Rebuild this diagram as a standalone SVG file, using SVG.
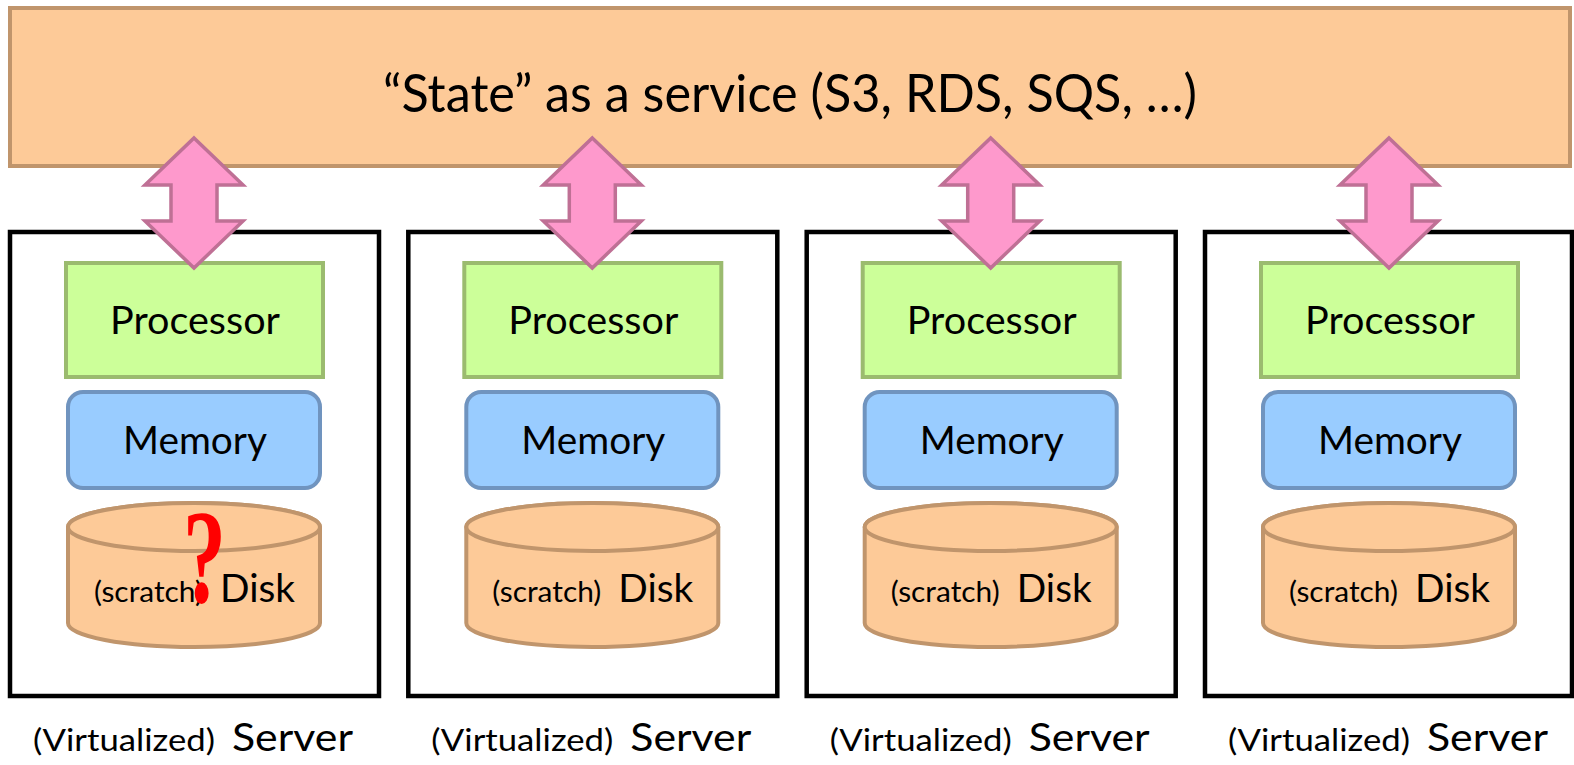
<svg xmlns="http://www.w3.org/2000/svg" width="1574" height="765" viewBox="0 0 1574 765">
<style>
  text { font-family: Lato, "Liberation Sans", sans-serif; fill: #000; }
  .state { fill: #fdca98; stroke: #c0956c; stroke-width: 4; }
  .server { fill: #fff; stroke: #000; stroke-width: 4.5; }
  .proc { fill: #ccff99; stroke: #9bbb6f; stroke-width: 4; }
  .mem { fill: #99ccff; stroke: #7094bf; stroke-width: 4; }
  .disk { fill: #fdca98; stroke: #c0956c; stroke-width: 4; }
  .arrow { fill: #fe99cc; stroke: #bf7095; stroke-width: 3.5; stroke-linejoin: miter; }
  .big { font-size: 39px; }
  .small { font-size: 29px; }
  .virt { font-size: 30px; }
  .title { font-size: 52px; }
  .q { font-family: "Liberation Serif", serif; font-weight: bold; font-size: 134px; fill: #ff0000; }
</style>
<defs>
  <path id="dblarrow" d="M194,138 L243,185 L217,185 L217,221 L243,221 L194,268 L145,221 L171,221 L171,185 L145,185 Z"/>
</defs>

<g id="state-service">
  <rect class="state" x="10" y="8" width="1560" height="158"/>
  <text class="title" x="790" y="112" text-anchor="middle" textLength="814" lengthAdjust="spacingAndGlyphs">“State” as a service (S3, RDS, SQS, …)</text>
</g>

<g id="server1">
  <rect class="server" x="10" y="232" width="369" height="464"/>
  <rect class="proc" x="66" y="263" width="257" height="114"/>
  <text class="big" x="195" y="334" text-anchor="middle" textLength="170" lengthAdjust="spacingAndGlyphs">Processor</text>
  <rect class="mem" x="68" y="392" width="252" height="96" rx="15"/>
  <text class="big" x="195" y="454" text-anchor="middle" textLength="144" lengthAdjust="spacingAndGlyphs">Memory</text>
  <path class="disk" d="M68,527 L68,623 A126,24 0 0 0 320,623 L320,527 A126,24 0 0 0 68,527 Z"/>
  <ellipse class="disk" cx="194" cy="527" rx="126" ry="24"/>
  <text x="94" y="602"><tspan class="small" textLength="109" lengthAdjust="spacingAndGlyphs">(scratch)</tspan><tspan class="big" x="220" textLength="75" lengthAdjust="spacingAndGlyphs">Disk</tspan></text>
  <text class="q" x="0" y="0" transform="translate(183,602) scale(0.64,1)">?</text>
  <text x="33" y="751"><tspan class="virt" textLength="182" lengthAdjust="spacingAndGlyphs">(Virtualized)</tspan><tspan class="big" x="232" textLength="121" lengthAdjust="spacingAndGlyphs">Server</tspan></text>
</g>

<g id="server2" transform="translate(398.3,0)">
  <rect class="server" x="10" y="232" width="369" height="464"/>
  <rect class="proc" x="66" y="263" width="257" height="114"/>
  <text class="big" x="195" y="334" text-anchor="middle" textLength="170" lengthAdjust="spacingAndGlyphs">Processor</text>
  <rect class="mem" x="68" y="392" width="252" height="96" rx="15"/>
  <text class="big" x="195" y="454" text-anchor="middle" textLength="144" lengthAdjust="spacingAndGlyphs">Memory</text>
  <path class="disk" d="M68,527 L68,623 A126,24 0 0 0 320,623 L320,527 A126,24 0 0 0 68,527 Z"/>
  <ellipse class="disk" cx="194" cy="527" rx="126" ry="24"/>
  <text x="94" y="602"><tspan class="small" textLength="109" lengthAdjust="spacingAndGlyphs">(scratch)</tspan><tspan class="big" x="220" textLength="75" lengthAdjust="spacingAndGlyphs">Disk</tspan></text>
  <text x="33" y="751"><tspan class="virt" textLength="182" lengthAdjust="spacingAndGlyphs">(Virtualized)</tspan><tspan class="big" x="232" textLength="121" lengthAdjust="spacingAndGlyphs">Server</tspan></text>
</g>

<g id="server3" transform="translate(796.7,0)">
  <rect class="server" x="10" y="232" width="369" height="464"/>
  <rect class="proc" x="66" y="263" width="257" height="114"/>
  <text class="big" x="195" y="334" text-anchor="middle" textLength="170" lengthAdjust="spacingAndGlyphs">Processor</text>
  <rect class="mem" x="68" y="392" width="252" height="96" rx="15"/>
  <text class="big" x="195" y="454" text-anchor="middle" textLength="144" lengthAdjust="spacingAndGlyphs">Memory</text>
  <path class="disk" d="M68,527 L68,623 A126,24 0 0 0 320,623 L320,527 A126,24 0 0 0 68,527 Z"/>
  <ellipse class="disk" cx="194" cy="527" rx="126" ry="24"/>
  <text x="94" y="602"><tspan class="small" textLength="109" lengthAdjust="spacingAndGlyphs">(scratch)</tspan><tspan class="big" x="220" textLength="75" lengthAdjust="spacingAndGlyphs">Disk</tspan></text>
  <text x="33" y="751"><tspan class="virt" textLength="182" lengthAdjust="spacingAndGlyphs">(Virtualized)</tspan><tspan class="big" x="232" textLength="121" lengthAdjust="spacingAndGlyphs">Server</tspan></text>
</g>

<g id="server4" transform="translate(1195,0)">
  <rect class="server" x="10" y="232" width="367" height="464"/>
  <rect class="proc" x="66" y="263" width="257" height="114"/>
  <text class="big" x="195" y="334" text-anchor="middle" textLength="170" lengthAdjust="spacingAndGlyphs">Processor</text>
  <rect class="mem" x="68" y="392" width="252" height="96" rx="15"/>
  <text class="big" x="195" y="454" text-anchor="middle" textLength="144" lengthAdjust="spacingAndGlyphs">Memory</text>
  <path class="disk" d="M68,527 L68,623 A126,24 0 0 0 320,623 L320,527 A126,24 0 0 0 68,527 Z"/>
  <ellipse class="disk" cx="194" cy="527" rx="126" ry="24"/>
  <text x="94" y="602"><tspan class="small" textLength="109" lengthAdjust="spacingAndGlyphs">(scratch)</tspan><tspan class="big" x="220" textLength="75" lengthAdjust="spacingAndGlyphs">Disk</tspan></text>
  <text x="33" y="751"><tspan class="virt" textLength="182" lengthAdjust="spacingAndGlyphs">(Virtualized)</tspan><tspan class="big" x="232" textLength="121" lengthAdjust="spacingAndGlyphs">Server</tspan></text>
</g>

<g id="connectors">
  <use href="#dblarrow" class="arrow"/>
  <use href="#dblarrow" class="arrow" transform="translate(398.3,0)"/>
  <use href="#dblarrow" class="arrow" transform="translate(796.7,0)"/>
  <use href="#dblarrow" class="arrow" transform="translate(1195,0)"/>
</g>
</svg>
